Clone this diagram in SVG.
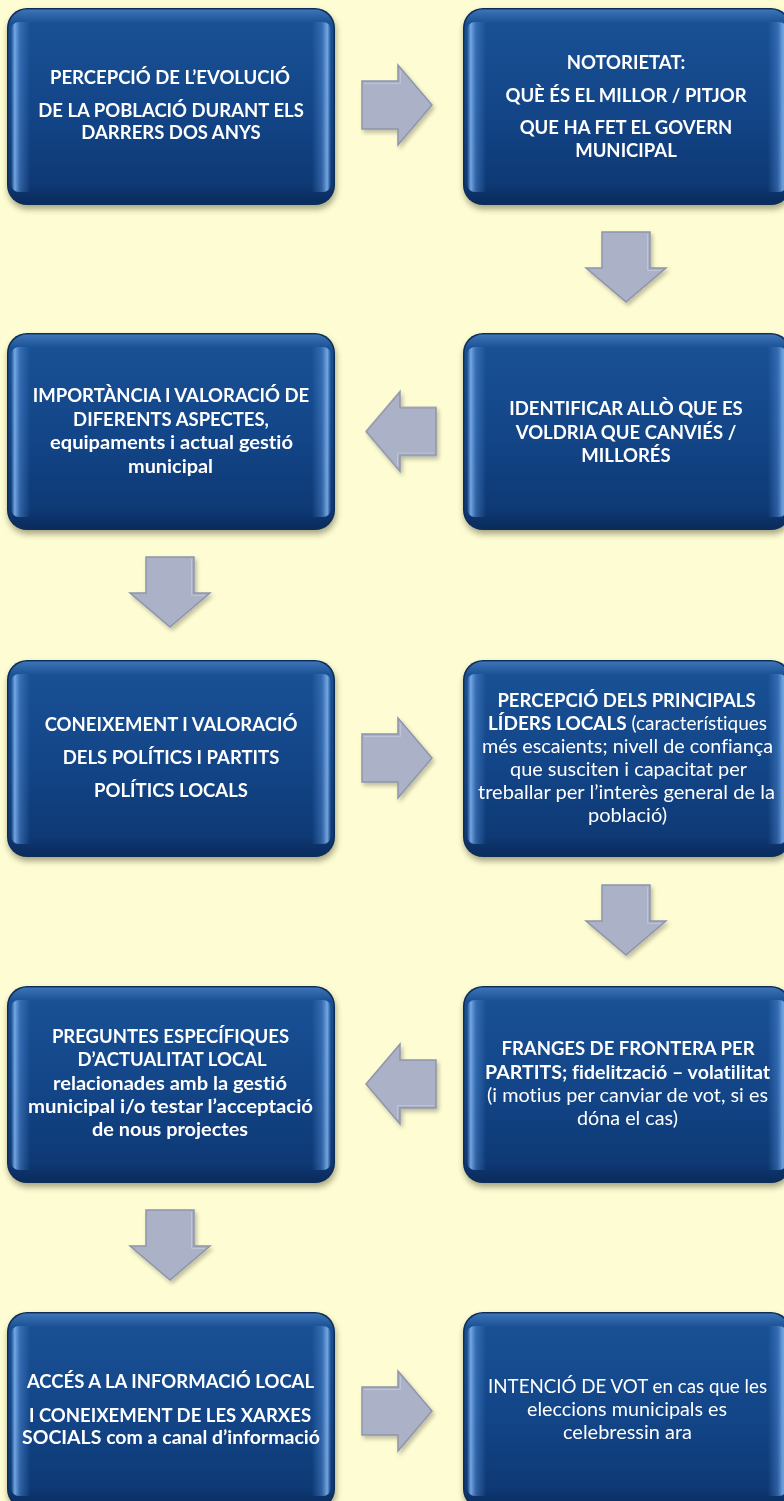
<svg xmlns="http://www.w3.org/2000/svg" width="784" height="1501" viewBox="0 0 784 1501">
<style>
.t{font-family:Lato,"Liberation Sans",sans-serif;font-size:18.5px;fill:#ffffff;text-anchor:middle;font-variant-ligatures:none}
.b{font-weight:bold}
.r{font-weight:normal}
.arrow{fill:#abb1c6;stroke:#8d95ab;stroke-width:1.5;stroke-linejoin:miter}
.arrowin{fill:none;stroke:#c3c8d8;stroke-width:1;opacity:.8}
</style>
<defs>
<linearGradient id="gBody" x1="0" y1="0" x2="0" y2="1">
<stop offset="0" stop-color="#1a5296"/>
<stop offset="0.5" stop-color="#134689"/>
<stop offset="1" stop-color="#0d3670"/>
</linearGradient>
<linearGradient id="gSide" x1="0" y1="0" x2="1" y2="0">
<stop offset="0" stop-color="#7fb2ee" stop-opacity="0"/>
<stop offset="0.012" stop-color="#7fb2ee" stop-opacity="0.9"/>
<stop offset="0.03" stop-color="#4d85cc" stop-opacity="0.5"/>
<stop offset="0.06" stop-color="#4d85cc" stop-opacity="0"/>
<stop offset="0.94" stop-color="#4d85cc" stop-opacity="0"/>
<stop offset="0.97" stop-color="#4d85cc" stop-opacity="0.5"/>
<stop offset="0.988" stop-color="#7fb2ee" stop-opacity="0.9"/>
<stop offset="1" stop-color="#7fb2ee" stop-opacity="0"/>
</linearGradient>
<linearGradient id="gTop" x1="0" y1="0" x2="0" y2="1">
<stop offset="0" stop-color="#5a8fd2" stop-opacity="0.55"/>
<stop offset="0.07" stop-color="#5a8fd2" stop-opacity="0"/>
<stop offset="0.9" stop-color="#061f45" stop-opacity="0"/>
<stop offset="1" stop-color="#061f45" stop-opacity="0.45"/>
</linearGradient>
<filter id="fShadow" x="-10%" y="-10%" width="120%" height="130%">
<feGaussianBlur stdDeviation="3"/>
</filter>
<filter id="fArrowShadow" x="-20%" y="-20%" width="150%" height="150%">
<feGaussianBlur in="SourceAlpha" stdDeviation="2"/>
<feOffset dx="2" dy="3" result="o"/>
<feComponentTransfer><feFuncA type="linear" slope="0.25"/></feComponentTransfer>
<feMerge><feMergeNode/><feMergeNode in="SourceGraphic"/></feMerge>
</filter>
<g id="box">
<rect x="1" y="4" width="328" height="197" rx="20" fill="#3a3a20" opacity="0.45" filter="url(#fShadow)"/>
<rect x="0" y="0" width="328" height="197" rx="20" fill="#0c2d58"/>
<rect x="1.5" y="1.5" width="325" height="194" rx="18.5" fill="url(#gBody)"/>
<rect x="1.5" y="1.5" width="325" height="194" rx="18.5" fill="url(#gTop)"/>
<rect x="4" y="14" width="320" height="170" rx="8" fill="url(#gSide)"/>
</g>
<g id="arr">
<path class="arrow" d="M-35,-24 H1 V-40 L35,0 L1,40 V24 H-35 Z"/>
<path class="arrowin" d="M-33,-21.5 H3.5 V-35"/>
</g>
</defs>
<rect x="0" y="0" width="784" height="1501" fill="#fefcd2"/>

<g id="connectors" filter="url(#fArrowShadow)">
<use href="#arr" transform="translate(397,105)"/>
<use href="#arr" transform="translate(626,267) rotate(90)"/>
<use href="#arr" transform="translate(401,431.5) rotate(180)"/>
<use href="#arr" transform="translate(170,592) rotate(90)"/>
<use href="#arr" transform="translate(397,758)"/>
<use href="#arr" transform="translate(626,920) rotate(90)"/>
<use href="#arr" transform="translate(401,1084) rotate(180)"/>
<use href="#arr" transform="translate(170,1245) rotate(90)"/>
<use href="#arr" transform="translate(397,1411)"/>
</g>

<g id="node1">
<use href="#box" transform="translate(7,8)"/>
<text class="t b" x="170" y="84">PERCEPCIÓ DE L’EVOLUCIÓ</text>
<text class="t b" x="171" y="117">DE LA POBLACIÓ DURANT ELS</text>
<text class="t b" x="171" y="138.5">DARRERS DOS ANYS</text>
</g>

<g id="node2">
<use href="#box" transform="translate(463,8)"/>
<text class="t b" x="626" y="69">NOTORIETAT:</text>
<text class="t b" x="626" y="102">QUÈ ÉS EL MILLOR / PITJOR</text>
<text class="t b" x="626" y="134">QUE HA FET EL GOVERN</text>
<text class="t b" x="626" y="157">MUNICIPAL</text>
</g>

<g id="node3">
<use href="#box" transform="translate(7,333)"/>
<text class="t b" x="171" y="402">IMPORTÀNCIA I VALORACIÓ DE</text>
<text class="t b" x="171" y="425.5">DIFERENTS ASPECTES,</text>
<text class="t b" x="171.5" y="449" textLength="243" lengthAdjust="spacingAndGlyphs">equipaments i actual gestió</text>
<text class="t b" x="170.5" y="472.5" textLength="85" lengthAdjust="spacingAndGlyphs">municipal</text>
</g>

<g id="node4">
<use href="#box" transform="translate(463,333)"/>
<text class="t b" x="626" y="415">IDENTIFICAR ALLÒ QUE ES</text>
<text class="t b" x="626" y="438.5">VOLDRIA QUE CANVIÉS /</text>
<text class="t b" x="626" y="462">MILLORÉS</text>
</g>

<g id="node5">
<use href="#box" transform="translate(7,660)"/>
<text class="t b" x="171" y="731">CONEIXEMENT I VALORACIÓ</text>
<text class="t b" x="171" y="764">DELS POLÍTICS I PARTITS</text>
<text class="t b" x="171" y="797">POLÍTICS LOCALS</text>
</g>

<g id="node6">
<use href="#box" transform="translate(463,660)"/>
<text class="t b" x="626.5" y="706.5">PERCEPCIÓ DELS PRINCIPALS</text>
<text class="t r" x="627.5" y="729.5" textLength="279" lengthAdjust="spacingAndGlyphs"><tspan class="b">LÍDERS LOCALS</tspan> (característiques</text>
<text class="t r" x="627.5" y="752.5" textLength="291" lengthAdjust="spacingAndGlyphs">més escaients; nivell de confiança</text>
<text class="t r" x="628.5" y="775.5" textLength="237" lengthAdjust="spacingAndGlyphs">que susciten i capacitat per</text>
<text class="t r" x="626.5" y="798.5" textLength="297" lengthAdjust="spacingAndGlyphs">treballar per l’interès general de la</text>
<text class="t r" x="627.5" y="821.5" textLength="79" lengthAdjust="spacingAndGlyphs">població)</text>
</g>

<g id="node7">
<use href="#box" transform="translate(7,986)"/>
<text class="t b" x="170.5" y="1042.5">PREGUNTES ESPECÍFIQUES</text>
<text class="t b" x="172" y="1066">D’ACTUALITAT LOCAL</text>
<text class="t b" x="170" y="1089.5" textLength="234" lengthAdjust="spacingAndGlyphs">relacionades amb la gestió</text>
<text class="t b" x="170.5" y="1112.5" textLength="285" lengthAdjust="spacingAndGlyphs">municipal i/o testar l’acceptació</text>
<text class="t b" x="170" y="1136" textLength="156" lengthAdjust="spacingAndGlyphs">de nous projectes</text>
</g>

<g id="node8">
<use href="#box" transform="translate(463,986)"/>
<text class="t b" x="628" y="1055">FRANGES DE FRONTERA PER</text>
<text class="t b" x="627.5" y="1078.5" textLength="285" lengthAdjust="spacingAndGlyphs">PARTITS; fidelització – volatilitat</text>
<text class="t r" x="627.5" y="1102" textLength="281" lengthAdjust="spacingAndGlyphs">(i motius per canviar de vot, si es</text>
<text class="t r" x="627.5" y="1125" textLength="101" lengthAdjust="spacingAndGlyphs">dóna el cas)</text>
</g>

<g id="node9">
<use href="#box" transform="translate(7,1312)"/>
<text class="t b" x="170.5" y="1388">ACCÉS A LA INFORMACIÓ LOCAL</text>
<text class="t b" x="170" y="1421.5">I CONEIXEMENT DE LES XARXES</text>
<text class="t b" x="171" y="1443.5" textLength="298" lengthAdjust="spacingAndGlyphs">SOCIALS com a canal d’informació</text>
</g>

<g id="node10">
<use href="#box" transform="translate(463,1312)"/>
<text class="t r" x="627.5" y="1392.5" textLength="279" lengthAdjust="spacingAndGlyphs">INTENCIÓ DE VOT en cas que les</text>
<text class="t r" x="627" y="1416" textLength="200" lengthAdjust="spacingAndGlyphs">eleccions municipals es</text>
<text class="t r" x="627.5" y="1439" textLength="129" lengthAdjust="spacingAndGlyphs">celebressin ara</text>
</g>
</svg>
